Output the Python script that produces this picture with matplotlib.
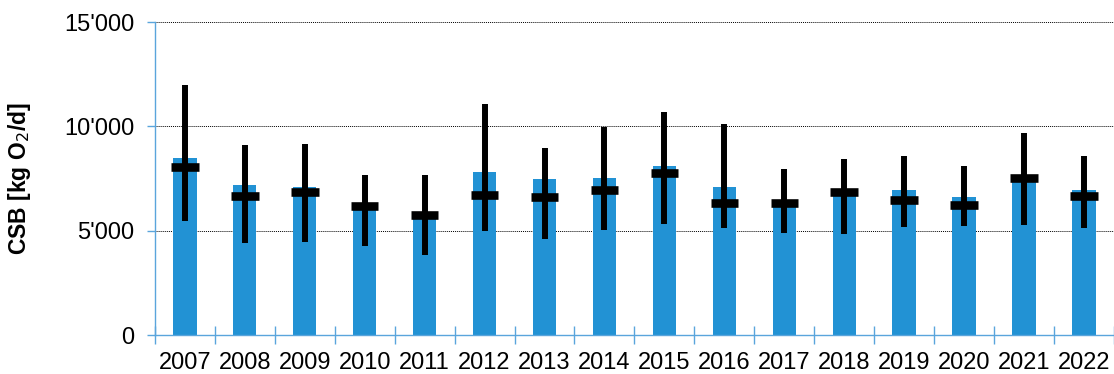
import numpy as np
import matplotlib
matplotlib.use("Agg")
import matplotlib.pyplot as plt
from matplotlib.ticker import FuncFormatter

plt.rcParams['font.family'] = ['Liberation Sans', 'DejaVu Sans']

# CSB-Fracht pro Jahr: Mittelwert (Balken), Median, Spannweite (Linie)
years = ['2007', '2008', '2009', '2010', '2011', '2012', '2013', '2014',
         '2015', '2016', '2017', '2018', '2019', '2020', '2021', '2022']
mean = [8470, 7170, 7120, 6150, 5700, 7810, 7460, 7520,
        8090, 7080, 6300, 6750, 6930, 6600, 7430, 6930]
median = [8070, 6670, 6840, 6190, 5760, 6710, 6630, 6950,
          7780, 6320, 6320, 6840, 6480, 6230, 7530, 6670]
upper = [12000, 9110, 9160, 7680, 7670, 11070, 8970, 9960,
         10710, 10110, 7940, 8420, 8580, 8090, 9700, 8570]
lower = [5460, 4410, 4450, 4290, 3860, 4980, 4610, 5020,
         5300, 5140, 4900, 4830, 5170, 5230, 5280, 5110]

axis_col = '#5aa5dc'
bar_col = '#2292d4'

fig = plt.figure(figsize=(11.14, 3.74), dpi=100)
ax = fig.add_axes([0.139, 0.104, 0.861, 0.837])

x = np.arange(len(years))
ax.bar(x, mean, width=0.39, color=bar_col, zorder=2)
ax.vlines(x, lower, upper, color='black', lw=4.3, zorder=3)
ax.hlines(median, x - 0.23, x + 0.23, color='black', lw=6.2, zorder=4)

ax.set_xlim(-0.5, len(years) - 0.5)
ax.set_ylim(0, 15000)
ax.set_yticks([0, 5000, 10000, 15000])
ax.yaxis.set_major_formatter(FuncFormatter(lambda v, p: f"{int(v):,}".replace(',', "'")))
ax.grid(axis='y', color='black', ls=(0, (1, 1)), lw=0.7, zorder=1)

ax.set_xticks(x)
ax.set_xticklabels(years)
ax.set_xticks(np.arange(len(years) + 1) - 0.5, minor=True)
ax.tick_params(axis='x', which='major', length=0, pad=12.5, labelsize=17)
ax.tick_params(axis='x', which='minor', direction='inout', length=13, color=axis_col, width=1)
ax.tick_params(axis='y', direction='out', length=6, color=axis_col, width=1, labelsize=17, pad=9)

for side in ['top', 'right']:
    ax.spines[side].set_visible(False)
for side in ['left', 'bottom']:
    ax.spines[side].set_color(axis_col)
    ax.spines[side].set_linewidth(1)

ax.set_ylabel('CSB [kg O$_2$/d]', fontsize=16.5, fontweight='bold', labelpad=22)

fig.savefig('out.png', dpi=100)
